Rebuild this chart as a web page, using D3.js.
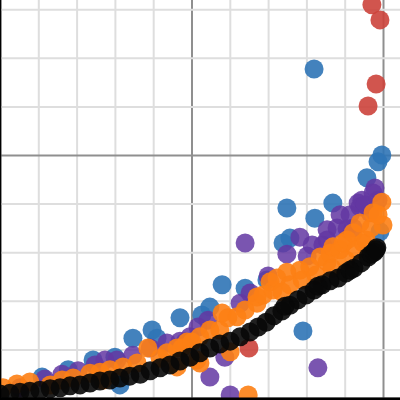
<!DOCTYPE html>
<html>
<head>
<meta charset="utf-8">
<script src="https://cdn.jsdelivr.net/npm/d3@7"></script>
<style>
html,body{margin:0;padding:0;background:#fff;}
svg{display:block;}
</style>
</head>
<body>
<svg id="chart" width="400" height="400"></svg>
<script>
// x ticks / y ticks (grid)
const xTicks = [0,1,2,3,4,5,6,7,8,9,10];
const yTicks = [0,1,2,3,4,5,6,7,8];
const majorTicks = [0,5,10];

// series values [x, y]
const blueX = [1.10,1.78,2.43,3.00,3.13,3.47,3.97,4.10,4.70,5.27,5.48,5.80,6.40,6.97,7.39,7.57,7.49,8.22,8.69,7.91,9.58,9.87,9.97,8.20,9.92];
const blueY = [0.43,0.58,0.78,0.84,0.27,1.23,1.40,1.23,1.65,1.71,1.87,2.33,2.26,2.43,3.19,3.29,3.91,3.70,4.01,1.38,4.53,4.86,5.00,6.77,3.42];

const redX = [9.71,9.92,9.82,9.61,6.50];
const redY = [8.09,7.78,6.46,6.01,1.03];

const purpleX = [0.52,1.17,1.62,2.04,2.48,2.74,3.05,3.47,3.92,4.36,4.70,4.96,5.17,5.43,4.83,5.87,5.48,6.01,6.27,6.53,6.40,7.00,7.49,7.83,8.02,8.43,8.54,8.88,8.80,9.06,9.22,9.35,9.45,9.66,9.79,8.30,9.40,9.74,8.54,9.53,9.87,9.14,8.15];
const purpleY = [0.21,0.39,0.49,0.56,0.68,0.78,0.78,0.88,1.03,1.13,1.17,1.26,1.46,1.60,1.15,0.84,0.43,0.06,1.95,2.16,3.19,2.51,2.96,3.31,2.92,3.15,3.46,3.77,3.50,3.48,3.50,4.01,4.07,3.81,4.32,0.62,3.93,4.22,3.25,3.97,4.07,3.77,3.15];

const orangeX = [0.08,0.44,0.78,1.31,1.62,1.91,2.35,2.61,2.87,3.21,3.58,3.86,4.18,4.36,4.62,4.88,4.75,5.01,5.22,5.48,5.74,5.80,5.95,6.19,6.40,6.71,6.71,6.87,7.05,7.13,7.23,7.49,7.83,8.09,8.36,8.54,8.62,8.69,8.88,8.96,9.06,9.22,9.40,9.48,9.74,9.97,10.0,6.48,6.01,5.22,4.62,2.69,5.14,7.57,7.89,8.25,8.67,9.03,9.30,9.56,9.69,9.87,7.36];
const orangeY = [0.21,0.29,0.33,0.27,0.37,0.41,0.51,0.53,0.58,0.64,0.72,1.03,0.82,0.93,1.03,1.15,1.03,1.15,1.26,1.40,1.40,1.75,1.65,1.67,1.81,1.95,2.08,2.12,2.39,2.22,2.47,2.59,2.63,2.70,2.90,2.80,2.98,3.11,3.05,3.19,3.25,3.40,3.60,3.19,3.81,4.03,3.56,0.06,0.95,0.72,0.64,0.37,0.78,2.33,2.43,2.53,2.67,2.84,3.05,3.25,3.50,3.77,2.18];

const blackX = [0,0.26,0.52,0.78,1.04,1.31,1.57,1.83,2.09,2.35,2.61,2.87,3.13,3.39,3.66,3.92,4.18,4.44,4.70,4.96,5.22,5.48,5.74,6.01,6.27,6.53,6.74,6.95,7.15,7.36,7.57,7.78,7.99,8.20,8.41,8.62,8.83,9.03,9.24,9.43,9.61,9.77,9.84,7.44,8.30,9.14,9.69,9.82];
const blackY = [0.08,0.10,0.12,0.14,0.16,0.19,0.21,0.25,0.27,0.31,0.35,0.37,0.41,0.45,0.49,0.56,0.62,0.68,0.76,0.84,0.93,1.03,1.11,1.17,1.26,1.36,1.46,1.56,1.69,1.79,1.91,2.02,2.12,2.22,2.33,2.41,2.47,2.57,2.67,2.78,2.90,3.00,3.09,1.89,2.30,2.63,2.96,3.05];

const series = [
  {name:"blue",   xs:blueX,   ys:blueY,   color:"#2f74b6", op:0.9},
  {name:"red",    xs:redX,    ys:redY,    color:"#cc433b", op:0.9},
  {name:"purple", xs:purpleX, ys:purpleY, color:"#6337a2", op:0.85},
  {name:"orange", xs:orangeX, ys:orangeY, color:"#fd7f14", op:0.9},
  {name:"black",  xs:blackX,  ys:blackY,  color:"#080808", op:0.9}
];

const W = 400, H = 400;
const svg = d3.select("#chart");
const x = d3.scaleLinear().domain([0, 400/38.3]).range([0, W]);
const y = d3.scaleLinear().domain([0, 398/48.6]).range([398, 0]);

// grid via axes
const gx = svg.append("g").attr("transform","translate(0,"+H+")")
  .call(d3.axisBottom(x).tickValues(xTicks).tickSize(-H).tickFormat(""));
gx.select(".domain").remove();
gx.selectAll(".tick line")
  .attr("stroke", d => majorTicks.includes(d) ? "#8f8f8f" : "#dedede")
  .attr("stroke-width", 2);

const gy = svg.append("g")
  .call(d3.axisLeft(y).tickValues(yTicks).tickSize(-W).tickFormat(""));
gy.select(".domain").remove();
gy.selectAll(".tick line")
  .attr("stroke", d => majorTicks.includes(d) ? "#8f8f8f" : "#dedede")
  .attr("stroke-width", 2);

// points
series.forEach(s => {
  const pts = s.xs.map((v,i)=>[v, s.ys[i]]);
  svg.append("g").selectAll("circle").data(pts).join("circle")
    .attr("cx", d => x(d[0]))
    .attr("cy", d => y(d[1]))
    .attr("r", 9.5)
    .attr("fill", s.color)
    .attr("fill-opacity", s.op);
});

// axis lines
svg.append("line").attr("x1",0.5).attr("x2",0.5).attr("y1",0).attr("y2",H)
  .attr("stroke","#000").attr("stroke-width",1.5);
svg.append("line").attr("x1",0).attr("x2",W).attr("y1",y(0)+1).attr("y2",y(0)+1)
  .attr("stroke","#000").attr("stroke-width",3);
</script>
</body>
</html>
